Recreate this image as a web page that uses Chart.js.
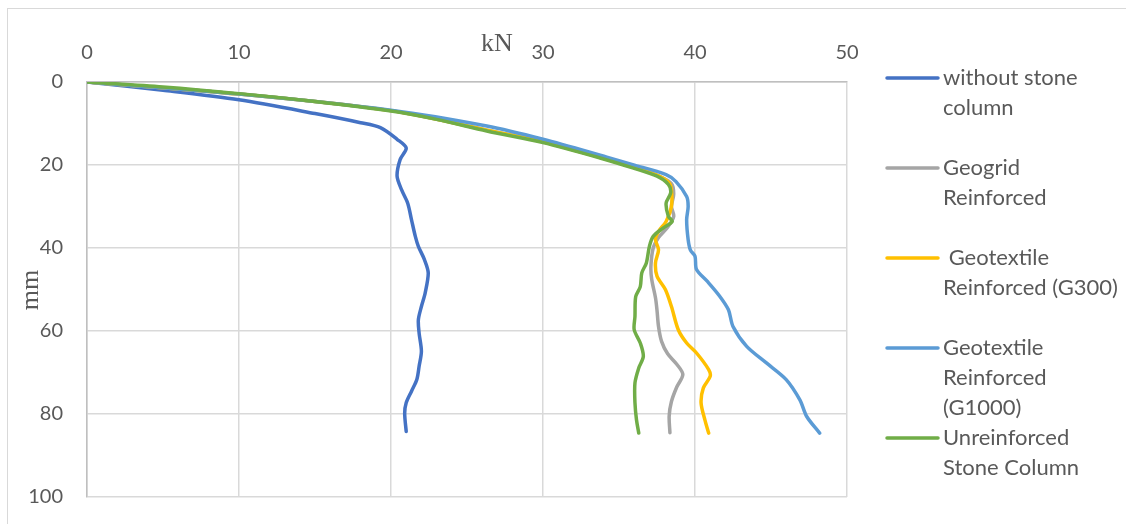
<!DOCTYPE html>
<html>
<head>
<meta charset="utf-8">
<script src="https://cdn.jsdelivr.net/npm/chart.js@4/dist/chart.umd.min.js"></script>
<style>
  html, body { margin: 0; padding: 0; background: #fff; }
  #wrap { position: relative; width: 1126px; height: 524px; }
</style>
</head>
<body>
<div id="wrap"><canvas id="chart" width="1126" height="524"></canvas></div>
<script>
// load (kN) vs settlement (mm)
const xTicks = [0, 10, 20, 30, 40, 50];
const yTicks = [0, 20, 40, 60, 80, 100];

const seriesNames = ['without stone column', 'Geogrid Reinforced', ' Geotextile Reinforced (G300)', 'Geotextile Reinforced (G1000)', 'Unreinforced Stone Column'];
const legendLines = [['without stone', 'column'], ['Geogrid', 'Reinforced'], [' Geotextile', 'Reinforced (G300)'], ['Geotextile', 'Reinforced', '(G1000)'], ['Unreinforced', 'Stone Column']];
const seriesColors = ['#4472C4', '#A5A5A5', '#FFC000', '#5B9BD5', '#70AD47'];

const withoutKN = [0, 5, 10, 15, 18, 19.3, 20.4, 21.0, 20.6, 20.4, 20.7, 21.1, 21.35, 21.6, 21.8, 22.2, 22.45, 22.25, 22.0, 21.8, 21.85, 22.0, 21.85, 21.7, 21.35, 21.0, 20.9, 21.0];
const withoutMM = [0, 2.0, 4.3, 7.6, 9.8, 11.0, 13.8, 15.9, 18.7, 22.7, 26.0, 29.2, 33.2, 37.2, 39.6, 42.8, 46.0, 50.8, 54.1, 57.3, 60.5, 64.9, 68.5, 71.7, 74.5, 77.3, 79.8, 84.2];

const geogridKN = [0, 10, 20, 26.3, 30, 33.8, 36.0, 37.6, 38.45, 38.6, 38.45, 38.6, 38.2, 37.6, 37.25, 37.1, 37.15, 37.4, 37.5, 37.6, 37.8, 38.2, 38.8, 39.2, 38.8, 38.45, 38.3, 38.35];
const geogridMM = [0, 2.9, 6.9, 11.6, 14.4, 18.2, 20.6, 22.6, 24.5, 27.0, 30.0, 32.4, 35.0, 37.5, 40.0, 44.4, 47.5, 52.0, 55.0, 58.9, 62.5, 65.5, 68.0, 70.5, 73.5, 77.0, 80.5, 84.5];

const g300KN = [0, 10, 20, 26.3, 30, 33.8, 36.0, 37.6, 38.3, 38.45, 38.45, 38.1, 37.6, 37.4, 37.6, 37.4, 37.5, 38.05, 38.45, 38.9, 39.45, 40.1, 40.9, 41.0, 40.55, 40.4, 40.65, 40.9];
const g300MM = [0, 2.9, 6.9, 11.6, 14.4, 18.2, 20.6, 22.6, 24.3, 26.0, 30.0, 33.6, 36.0, 38.0, 40.4, 43.6, 46.8, 50.0, 54.1, 59.7, 62.9, 65.3, 69.3, 70.9, 73.7, 77.3, 81.4, 84.6];

const g1000KN = [0, 10, 20, 26.3, 30, 34.2, 35.9, 38.1, 38.75, 39.45, 39.55, 39.45, 39.55, 39.7, 40.0, 40.1, 40.8, 41.6, 42.2, 42.5, 43.4, 44.7, 46.0, 46.9, 47.35, 48.2];
const g1000MM = [0, 2.9, 6.8, 10.6, 13.8, 18.1, 19.9, 22.3, 24.0, 27.6, 30.0, 33.2, 38.0, 40.5, 42.0, 45.2, 48.0, 51.5, 54.9, 58.9, 63.7, 67.7, 71.7, 76.6, 80.6, 84.6];

const unreinfKN = [0, 5, 10, 15, 20, 23, 26.3, 30, 33.75, 35.9, 37.5, 38.25, 38.4, 38.1, 38.25, 38.5, 37.9, 37.25, 37.0, 36.8, 36.5, 36.4, 36.1, 36.05, 36.0, 36.4, 36.6, 36.3, 36.05, 36.05, 36.15, 36.3];
const unreinfMM = [0, 1.2, 2.8, 4.7, 7.0, 9.0, 11.8, 14.6, 18.3, 20.7, 22.7, 24.7, 26.7, 29.2, 32.4, 33.6, 35.2, 37.2, 39.6, 43.6, 46.0, 49.3, 51.7, 56.5, 59.7, 62.9, 66.1, 68.9, 72.5, 77.3, 81.4, 84.6];

const seriesKN = [withoutKN, geogridKN, g300KN, g1000KN, unreinfKN];
const seriesMM = [withoutMM, geogridMM, g300MM, g1000MM, unreinfMM];

const tickFont = { family: 'Lato, "Noto Sans", sans-serif', size: 20 };
const textColor = '#595959';

const pairs = (xs, ys) => xs.map((x, i) => ({ x: x, y: ys[i] }));

const datasets = seriesNames.map((name, i) => ({
  label: name,
  data: pairs(seriesKN[i], seriesMM[i]),
  borderColor: seriesColors[i],
  backgroundColor: seriesColors[i],
  borderWidth: 3.5,
  pointRadius: 0,
  showLine: true,
  tension: 0.3,
  fill: false,
  borderCapStyle: 'round',
  order: seriesNames.length - i
}));

// frame, axis titles and the wrapped legend on the right
const extras = {
  id: 'extras',
  beforeDraw(chart) {
    const ctx = chart.ctx;
    ctx.save();
    ctx.strokeStyle = '#D9D9D9';
    ctx.lineWidth = 1;
    ctx.strokeRect(7.5, 8.5, 1130, 530);
    ctx.restore();
  },
  afterDraw(chart) {
    const ctx = chart.ctx;
    ctx.save();
    ctx.fillStyle = textColor;
    ctx.font = '26px "Liberation Serif", "Times New Roman", serif';
    ctx.textAlign = 'center';
    ctx.textBaseline = 'alphabetic';
    ctx.fillText('kN', 497, 51);
    ctx.translate(38, 290);
    ctx.rotate(-Math.PI / 2);
    ctx.fillText('mm', 0, 0);
    ctx.restore();

    ctx.save();
    ctx.font = '22px Lato, "Noto Sans", sans-serif';
    ctx.textBaseline = 'middle';
    ctx.fillStyle = textColor;
    legendLines.forEach((lines, i) => {
      const y0 = 78 + i * 90;
      ctx.strokeStyle = seriesColors[i];
      ctx.lineWidth = 3.5;
      ctx.lineCap = 'round';
      ctx.beginPath();
      ctx.moveTo(887, y0);
      ctx.lineTo(938, y0);
      ctx.stroke();
      lines.forEach((t, j) => ctx.fillText(t, 943, y0 + j * 30));
    });
    ctx.restore();
  }
};

new Chart(document.getElementById('chart'), {
  type: 'scatter',
  data: { datasets: datasets },
  options: {
    responsive: false,
    animation: false,
    layout: { padding: { left: 0, top: 0, right: 279, bottom: 27 } },
    plugins: { legend: { display: false }, tooltip: { enabled: false } },
    scales: {
      x: {
        type: 'linear',
        position: 'top',
        min: 0,
        max: 50,
        afterBuildTicks: (s) => { s.ticks = xTicks.map(v => ({ value: v })); },
        afterFit: (s) => { s.height = 82; s.paddingLeft = 0; s.paddingRight = 0; },
        ticks: { color: textColor, font: tickFont, padding: 17 },
        grid: { color: '#D9D9D9', lineWidth: 1.5, drawTicks: false },
        border: { color: '#BFBFBF', width: 1.5 }
      },
      y: {
        type: 'linear',
        reverse: true,
        min: 0,
        max: 100,
        afterBuildTicks: (s) => { s.ticks = yTicks.map(v => ({ value: v })); },
        afterFit: (s) => { s.width = 87; s.paddingTop = 0; s.paddingBottom = 0; },
        ticks: { color: textColor, font: tickFont, padding: 24 },
        grid: { color: '#D9D9D9', lineWidth: 1.5, drawTicks: false },
        border: { color: '#BFBFBF', width: 1.5 }
      }
    }
  },
  plugins: [extras]
});
</script>
</body>
</html>
